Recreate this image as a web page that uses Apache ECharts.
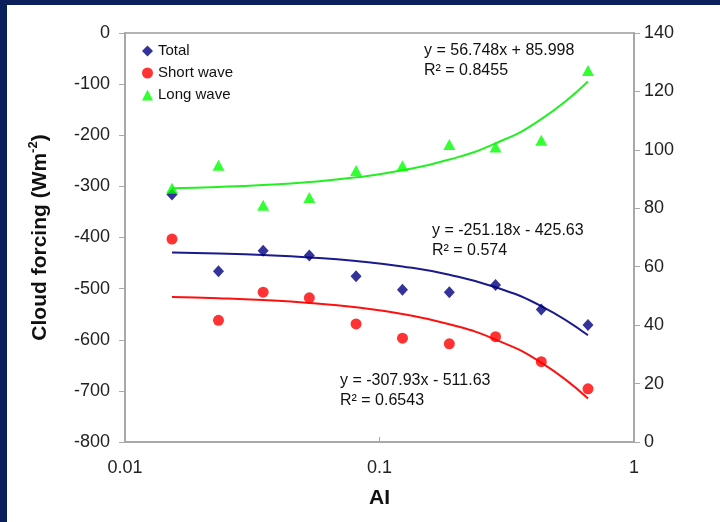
<!DOCTYPE html>
<html>
<head>
<meta charset="utf-8">
<script src="https://cdn.jsdelivr.net/npm/echarts@6/dist/echarts.min.js"></script>
<style>
html,body{margin:0;padding:0;background:#0b1f5c;}
#chart{width:720px;height:522px;}
</style>
</head>
<body>
<div id="chart"></div>
<script>
// ---- data ----
const aiValues = [0.0153, 0.0233, 0.0349, 0.0530, 0.0809, 0.1231, 0.1881, 0.2857, 0.4322, 0.6596];
const totalValues = [-316, -466, -426, -435, -476, -502, -507, -493, -541, -571];
const shortWaveValues = [-403, -562, -507, -518, -569, -597, -608, -594, -643, -696];
const longWaveValues = [86.9, 94.7, 81.0, 83.7, 92.9, 94.6, 101.8, 101.0, 103.3, 127.2];
const seriesNames = ['Total', 'Short wave', 'Long wave'];
// trendline coefficients shown on the chart: y = slope*x + intercept
const trendSlopes = [-251.18, -307.93, 56.748];
const trendIntercepts = [-425.63, -511.63, 85.998];
const trendR2 = ['0.574', '0.6543', '0.8455'];
const xTickLabels = ['0.01', '0.1', '1'];
const leftTicks = [-800, 0, 100];
const rightTicks = [0, 140, 20];

const FONT = 'Arial, "Liberation Sans", sans-serif';
const pts = ys => aiValues.map((x, i) => [x, ys[i]]);
const trend = k => aiValues.map(x => [x, trendSlopes[k] * x + trendIntercepts[k]]);
const fmt = (n) => (n < 0 ? '- ' + Math.abs(n) : '+ ' + n);
const eqText = k => 'y = ' + trendSlopes[k] + 'x ' + fmt(trendIntercepts[k]);

const chart = echarts.init(document.getElementById('chart'), null, {renderer: 'canvas'});
const colors = ['#000080', '#ff0000', '#00ff00'];
const lineColors = ['#1a1a8c', '#ff1010', '#22f022'];

const eqStyle = {fontFamily: FONT, fontSize: 16, fill: '#111'};
function eqGraphic(k, x, y) {
  return [
    {type: 'text', left: x, top: y - 10, z: 50, style: Object.assign({text: eqText(k)}, eqStyle)},
    {type: 'text', left: x, top: y + 10, z: 50, style: Object.assign({text: 'R\u00b2 = ' + trendR2[k]}, eqStyle)}
  ];
}

chart.setOption({
  backgroundColor: '#0b1f5c',
  animation: false,
  textStyle: {fontFamily: FONT},
  graphic: [
    {type: 'rect', shape: {x: 7, y: 5, width: 713, height: 517}, style: {fill: '#ffffff'}, z: -100, silent: true}
  ].concat(eqGraphic(2, 424, 53), eqGraphic(0, 432, 233), eqGraphic(1, 340, 383)),
  grid: {left: 125, right: 86, top: 33, bottom: 80, show: true, borderColor: '#b4b4b4', borderWidth: 2, backgroundColor: 'transparent'},
  legend: {
    orient: 'vertical', left: 137, top: 35, itemWidth: 11, itemHeight: 11, itemGap: 0,
    textStyle: {fontFamily: FONT, fontSize: 15, color: '#111', lineHeight: 22},
    data: [
      {name: seriesNames[0], icon: 'diamond'},
      {name: seriesNames[1], icon: 'circle'},
      {name: seriesNames[2], icon: 'triangle'}
    ]
  },
  xAxis: {
    type: 'log', logBase: 10, min: 0.01, max: 1,
    name: 'AI', nameLocation: 'middle', nameGap: 46,
    nameTextStyle: {fontFamily: FONT, fontSize: 21, fontWeight: 'bold', color: '#111'},
    axisLine: {onZero: false, lineStyle: {color: '#a8a8a8', width: 2}},
    axisTick: {inside: true, length: 5, lineStyle: {color: '#a8a8a8', width: 1}},
    axisLabel: {fontFamily: FONT, fontSize: 18, color: '#222', margin: 17,
      formatter: v => xTickLabels[Math.round(Math.log10(v)) + 2]},
    splitLine: {show: false}, minorTick: {show: false}
  },
  yAxis: [
    {
      type: 'value', min: leftTicks[0], max: leftTicks[1], interval: leftTicks[2], position: 'left',
      name: '{a|Cloud forcing (Wm}{s|-2}{a|)}', nameLocation: 'middle', nameGap: 72, nameRotate: 90,
      nameTextStyle: {rich: {
        a: {fontFamily: FONT, fontSize: 21, fontWeight: 'bold', color: '#111', lineHeight: 26},
        s: {fontFamily: FONT, fontSize: 13, fontWeight: 'bold', color: '#111', verticalAlign: 'top', lineHeight: 14}
      }},
      axisLine: {show: true, onZero: false, lineStyle: {color: '#a8a8a8', width: 2}},
      axisTick: {show: true, length: 6, lineStyle: {color: '#a8a8a8', width: 1}},
      axisLabel: {fontFamily: FONT, fontSize: 18, color: '#222', margin: 15},
      splitLine: {show: false}
    },
    {
      type: 'value', min: rightTicks[0], max: rightTicks[1], interval: rightTicks[2], position: 'right',
      axisLine: {show: true, onZero: false, lineStyle: {color: '#a8a8a8', width: 2}},
      axisTick: {show: true, length: 6, lineStyle: {color: '#a8a8a8', width: 1}},
      axisLabel: {fontFamily: FONT, fontSize: 18, color: '#222', margin: 10},
      splitLine: {show: false}
    }
  ],
  series: [
    {name: seriesNames[0], type: 'scatter', yAxisIndex: 0, symbol: 'diamond', symbolSize: [11, 12],
      itemStyle: {color: colors[0]}, data: pts(totalValues), z: 5},
    {name: seriesNames[1], type: 'scatter', yAxisIndex: 0, symbol: 'circle', symbolSize: 11,
      itemStyle: {color: colors[1]}, data: pts(shortWaveValues), z: 5},
    {name: seriesNames[2], type: 'scatter', yAxisIndex: 1, symbol: 'triangle', symbolSize: [12, 11],
      itemStyle: {color: colors[2]}, data: pts(longWaveValues), z: 6},
    {name: 'trend-total', type: 'line', yAxisIndex: 0, showSymbol: false, symbol: 'none', smooth: true,
      lineStyle: {color: lineColors[0], width: 2}, data: trend(0), z: 3, silent: true},
    {name: 'trend-short', type: 'line', yAxisIndex: 0, showSymbol: false, symbol: 'none', smooth: true,
      lineStyle: {color: lineColors[1], width: 2}, data: trend(1), z: 3, silent: true},
    {name: 'trend-long', type: 'line', yAxisIndex: 1, showSymbol: false, symbol: 'none', smooth: true,
      lineStyle: {color: lineColors[2], width: 2}, data: trend(2), z: 3, silent: true}
  ]
});
</script>
</body>
</html>
